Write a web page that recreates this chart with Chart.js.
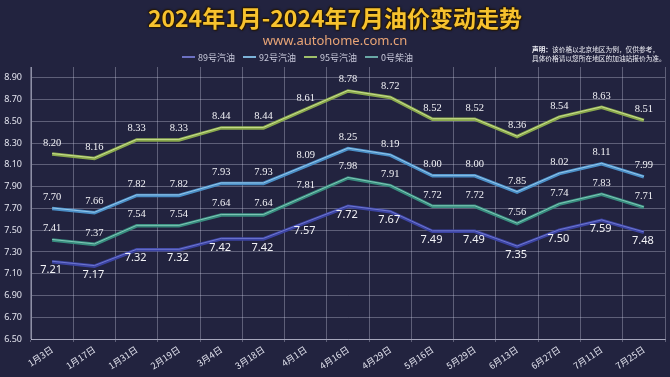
<!DOCTYPE html>
<html lang="zh-CN">
<head>
<meta charset="utf-8">
<title>2024年1月-2024年7月油价变动走势</title>
<script src="https://cdn.jsdelivr.net/npm/chart.js@4.4.1/dist/chart.umd.min.js"></script>
<style>
    html, body {
        margin: 0;
        padding: 0;
        background: #22233f;
    }
    #wrap {
        position: relative;
        width: 670px;
        height: 377px;
        overflow: hidden;
        background: #22233f;
        font-family: "Noto Sans CJK SC", "Noto Sans", sans-serif;
    }
    #title {
        position: absolute;
        left: 0; top: 3px;
        width: 670px;
        text-align: center;
        font-size: 23px;
        font-weight: bold;
        line-height: 28px;
        color: #f7c22e;
        text-shadow: 1px 1px 1px #2a1a00, -1px -1px 1px #2a1a00, 0 0 3px #000;
    }
    #subtitle {
        position: absolute;
        left: 0; top: 33px;
        width: 670px;
        text-align: center;
        font: 13px "Noto Sans", sans-serif;
        line-height: 15px;
        color: #e9a577;
    }
    #legend {
        position: absolute;
        left: 182px; top: 51px;
        height: 12px;
        display: flex;
        align-items: center;
        font-size: 9px;
        color: #c9cadb;
    }
    #legend .item { display: flex; align-items: center; margin-right: 8px; }
    #legend .swatch { width: 13px; height: 2px; margin-right: 3px; }
    #note {
        position: absolute;
        left: 532px; top: 45px;
        font-size: 6.7px;
        line-height: 9px;
        color: #eeeef5;
        white-space: nowrap;
    }
    #note b { font-weight: bold; }
    #chart-box {
        position: absolute;
        left: 0; top: 0;
        width: 670px;
        height: 377px;
    }
</style>
</head>
<body>
<div id="wrap">
    <div id="chart-box"><canvas id="oil-chart" width="670" height="377"></canvas></div>
    <div id="title">2024年1月-2024年7月油价变动走势</div>
    <div id="subtitle">www.autohome.com.cn</div>
    <div id="legend"></div>
    <div id="note"><b>声明：</b>该价格以北京地区为例，仅供参考，<br>具体价格请以您所在地区的加油站报价为准。</div>
</div>
<script>
// ------------------------------------------------------------
// data
// ------------------------------------------------------------
const dates = ["1月3日", "1月17日", "1月31日", "2月19日", "3月4日", "3月18日", "4月1日", "4月16日",
    "4月29日", "5月16日", "5月29日", "6月13日", "6月27日", "7月11日", "7月25日"];

const price89 = [7.21, 7.17, 7.32, 7.32, 7.42, 7.42, 7.57, 7.72, 7.67, 7.49, 7.49, 7.35, 7.50, 7.59, 7.48];
const price92 = [7.70, 7.66, 7.82, 7.82, 7.93, 7.93, 8.09, 8.25, 8.19, 8.00, 8.00, 7.85, 8.02, 8.11, 7.99];
const price95 = [8.20, 8.16, 8.33, 8.33, 8.44, 8.44, 8.61, 8.78, 8.72, 8.52, 8.52, 8.36, 8.54, 8.63, 8.51];
const price0 = [7.41, 7.37, 7.54, 7.54, 7.64, 7.64, 7.81, 7.98, 7.91, 7.72, 7.72, 7.56, 7.74, 7.83, 7.71];

const yTicks = [6.50, 6.70, 6.90, 7.10, 7.30, 7.50, 7.70, 7.90, 8.10, 8.30, 8.50, 8.70, 8.90];

const SERIF = "'Liberation Serif', 'DejaVu Serif', serif";
const SANS = "'Noto Sans', 'Open Sans', sans-serif";

// series in legend order
const series = [
    { label: "89号汽油", data: price89, color: "#3b43a2", hi: "#6f77cf", key: "#6c70c2", labelAt: "bottom", font: SANS },
    { label: "92号汽油", data: price92, color: "#4a8ec6", hi: "#93c6ea", key: "#7cb2d8", labelAt: "top", font: SERIF },
    { label: "95号汽油", data: price95, color: "#89a84c", hi: "#c8de8e", key: "#9fc06a", labelAt: "top", font: SERIF },
    { label: "0号柴油", data: price0, color: "#378c7e", hi: "#7fc7b6", key: "#6aa8a6", labelAt: "top", font: SERIF }
];

// lighter centre line so the strokes look like the glossy tubes in the picture
const highlightPlugin = {
    id: "highlight",
    afterDatasetDraw(chart, args) {
        const ds = chart.data.datasets[args.index];
        const pts = args.meta.data;
        const ctx = chart.ctx;
        ctx.save();
        ctx.strokeStyle = ds.hiColor;
        ctx.lineWidth = 1;
        ctx.lineJoin = "round";
        ctx.beginPath();
        pts.forEach((p, i) => i ? ctx.lineTo(p.x, p.y - 0.5) : ctx.moveTo(p.x, p.y - 0.5));
        ctx.stroke();
        ctx.restore();
    }
};

// value labels above / below each point
const valueLabels = {
    id: "valueLabels",
    afterDatasetsDraw(chart) {
        const ctx = chart.ctx;
        ctx.save();
        ctx.fillStyle = "#f2f2f6";
        ctx.textAlign = "center";
        chart.data.datasets.forEach((ds, di) => {
            const meta = chart.getDatasetMeta(di);
            ctx.font = (ds.labelAt === "top" ? "10.5px " : "11px ") + ds.labelFont;
            meta.data.forEach((p, i) => {
                const txt = ds.data[i].toFixed(2);
                if (ds.labelAt === "top") {
                    ctx.textBaseline = "bottom";
                    ctx.fillText(txt, p.x, p.y - 6);
                } else {
                    ctx.textBaseline = "top";
                    ctx.fillText(txt, p.x - 1, p.y + 3);
                }
            });
        });
        ctx.restore();
    }
};

const gridColor = "rgba(210, 212, 232, 0.34)";

const chart = new Chart(document.getElementById("oil-chart"), {
    type: "line",
    data: {
        labels: dates,
        datasets: series.map(s => ({
            label: s.label,
            data: s.data,
            borderColor: s.color,
            backgroundColor: s.key,
            hiColor: s.hi,
            labelAt: s.labelAt,
            labelFont: s.font,
            borderWidth: 3.5,
            pointRadius: 0,
            tension: 0,
            fill: false
        }))
    },
    options: {
        responsive: false,
        animation: false,
        devicePixelRatio: 1,
        layout: { padding: { top: 67, right: 5, left: 0, bottom: 0 } },
        plugins: {
            legend: { display: false },
            title: { display: false },
            tooltip: { enabled: false }
        },
        scales: {
            x: {
                offset: true,
                grid: { offset: true, color: gridColor, drawTicks: true, tickLength: 3 },
                border: { color: "rgba(215, 217, 235, 0.6)" },
                ticks: {
                    color: "#e2e3ee",
                    font: { family: "'Noto Sans CJK SC', sans-serif", size: 9 },
                    minRotation: 34,
                    maxRotation: 34,
                    padding: 2,
                    autoSkip: false
                },
                afterFit(scale) { scale.height = 38; }
            },
            y: {
                min: 6.5,
                max: 9.0,
                grid: { color: gridColor, drawTicks: false },
                border: { color: "rgba(215, 217, 235, 0.6)" },
                ticks: {
                    color: "#e2e3ee",
                    font: { family: SANS, size: 9 },
                    padding: 9,
                    callback: v => Number(v).toFixed(2)
                },
                afterBuildTicks(scale) { scale.ticks = yTicks.map(v => ({ value: v })); },
                afterFit(scale) { scale.width = 31; }
            }
        }
    },
    plugins: [highlightPlugin, valueLabels]
});

// legend drawn as html so it can sit left of the note, as in the picture
const legendEl = document.getElementById("legend");
series.forEach(s => {
    const item = document.createElement("div");
    item.className = "item";
    item.innerHTML = `<span class="swatch" style="background:${s.key}"></span><span>${s.label}</span>`;
    legendEl.appendChild(item);
});
</script>
</body>
</html>
